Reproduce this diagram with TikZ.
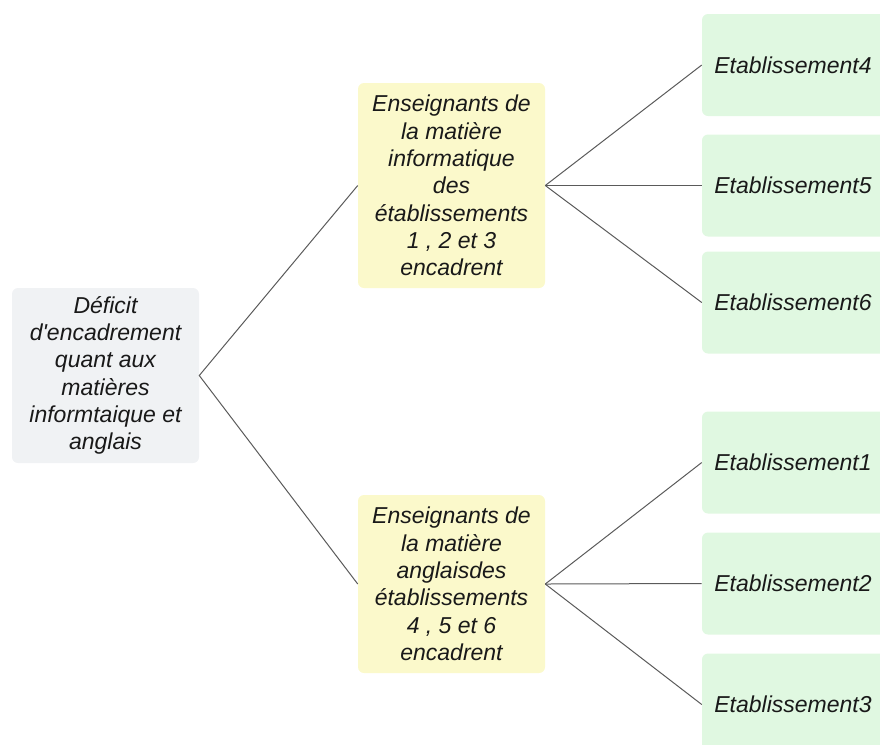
\documentclass[tikz,border=0pt]{standalone}
\usepackage{fontspec}
\setmainfont{Liberation Sans}
\usetikzlibrary{positioning}

\definecolor{rootgray}{HTML}{F0F2F4}
\definecolor{subyellow}{HTML}{FBF9CB}
\definecolor{leafgreen}{HTML}{E0F8E1}
\definecolor{linkgray}{HTML}{5A5A5A}

\begin{document}
\begin{tikzpicture}[
  x=0.75pt, y=-0.75pt,
  box/.style={rounded corners=4.5pt, align=center, inner sep=0pt,
    font=\fontsize{17.25pt}{20.5pt}\selectfont\itshape, text=black!90},
  rootbox/.style={box, fill=rootgray, minimum width=140.25pt, minimum height=131.25pt},
  subbox/.style={box, fill=subyellow, minimum width=140.25pt},
  leafbox/.style={box, fill=leafgreen, minimum width=142.5pt, minimum height=76.5pt},
  link/.style={draw=linkgray, line width=0.75pt}
]
\useasboundingbox (0,0) rectangle (880,744);
\clip (0,0) rectangle (880,744);

% root
\node[rootbox] (def) at (105.5,375.5) {D\'eficit\\d\textquotesingle encadrement\\quant aux\\mati\`eres\\informtaique et\\anglais};

% second level
\node[subbox, minimum height=153.75pt] (info) at (451.5,185.5) {Enseignants de\\la mati\`ere\\informatique\\des\\\'etablissements\\1 , 2 et 3\\encadrent};
\node[subbox, minimum height=133.5pt] (angl) at (451.5,584) {Enseignants de\\la mati\`ere\\anglaisdes\\\'etablissements\\4 , 5 et 6\\encadrent};

% leaves
\node[leafbox] (e4) at (797,65) {\hspace*{-6pt}Etablissement4};
\node[leafbox] (e5) at (797,185.5) {\hspace*{-6pt}Etablissement5};
\node[leafbox] (e6) at (797,302.5) {\hspace*{-6pt}Etablissement6};
\node[leafbox] (e1) at (797,462.5) {\hspace*{-6pt}Etablissement1};
\node[leafbox] (e2) at (797,583.5) {\hspace*{-6pt}Etablissement2};
\node[leafbox] (e3) at (797,704.5) {\hspace*{-6pt}Etablissement3};

% links
\draw[link] (info.west) -- (def.east) -- (angl.west);
\foreach \e in {e4,e5,e6}
  \draw[link] (info.east) -- (\e.west);
\foreach \e in {e1,e2,e3}
  \draw[link] (angl.east) -- (\e.west);

\end{tikzpicture}
\end{document}
